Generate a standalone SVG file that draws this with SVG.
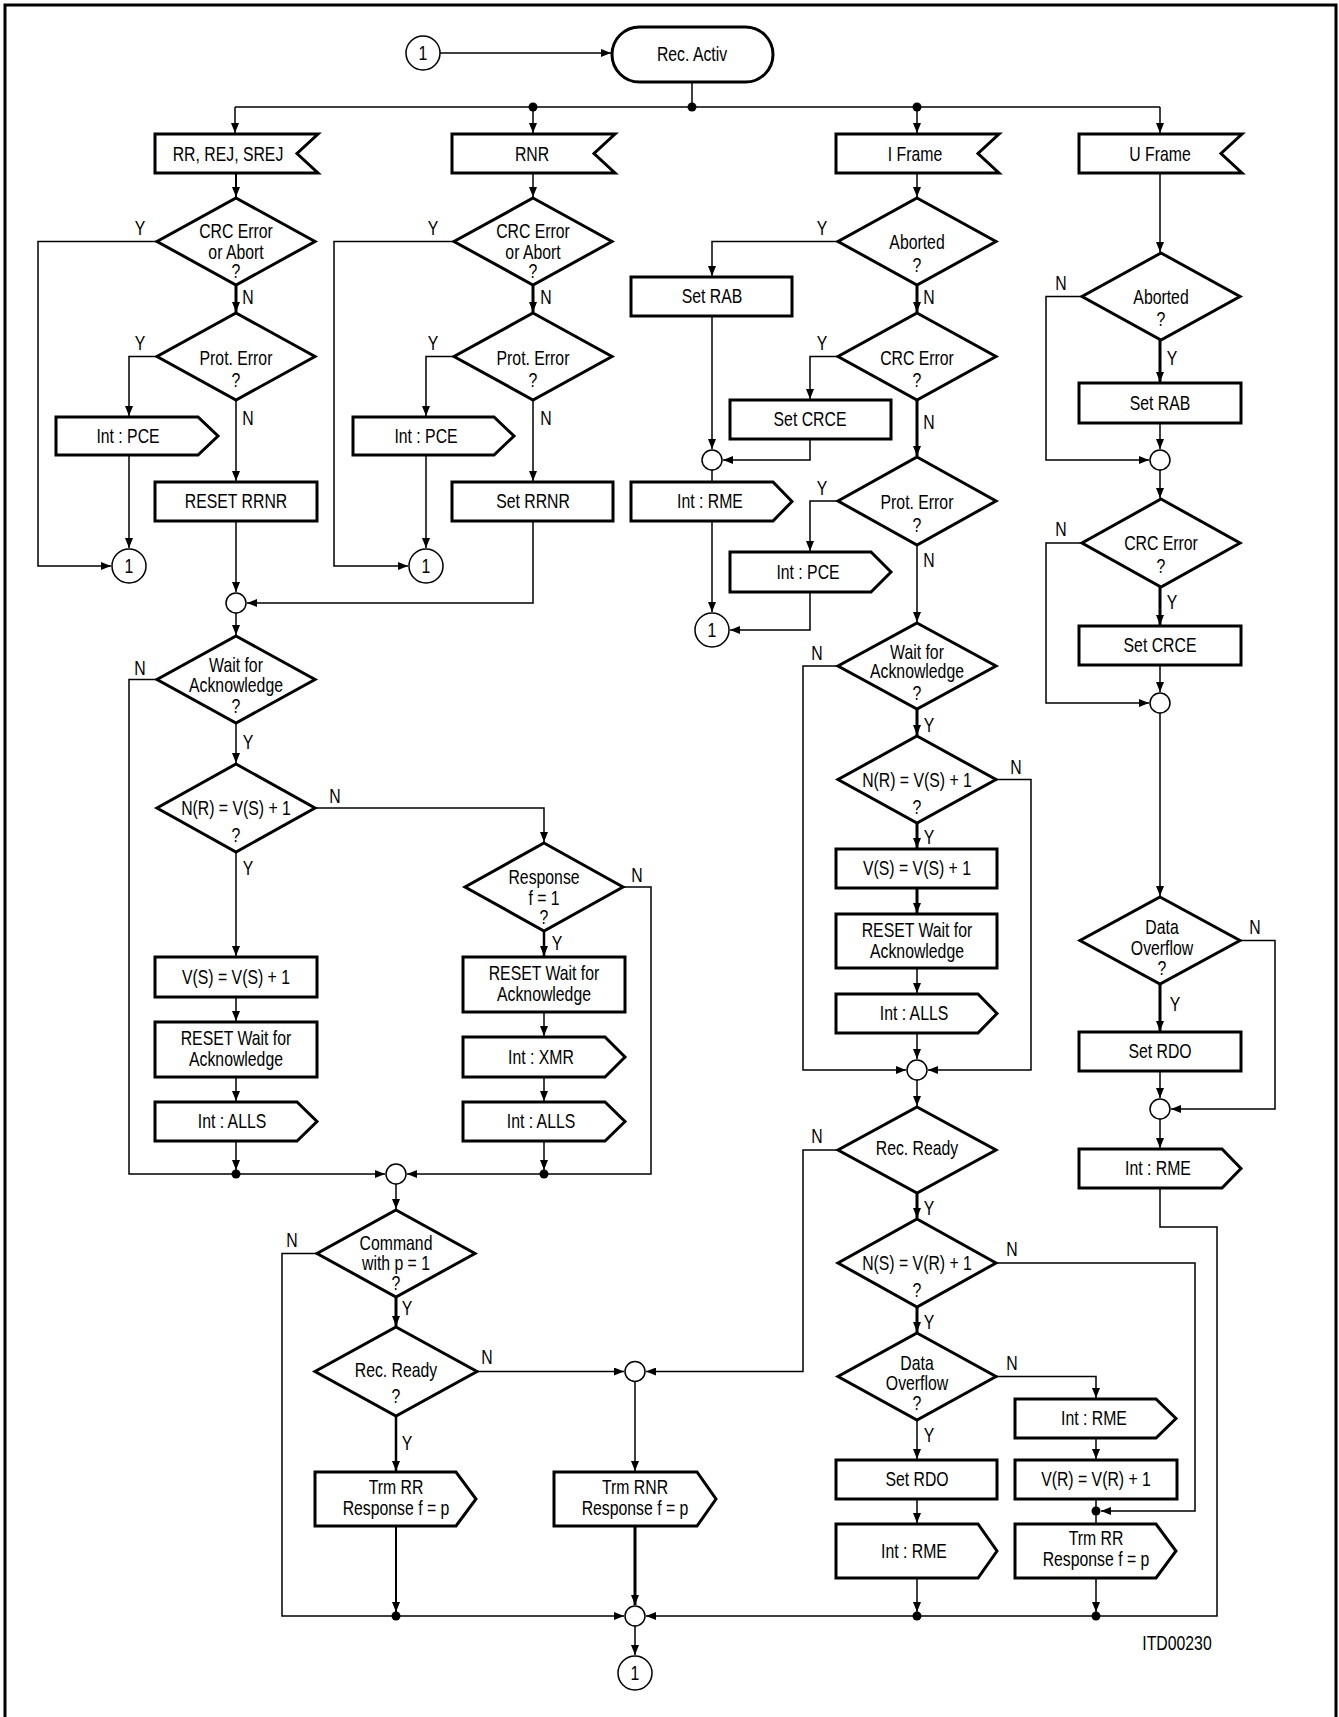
<svg xmlns="http://www.w3.org/2000/svg" width="1339" height="1717" viewBox="0 0 1339 1717">
<defs>
<marker id="a" markerWidth="10" markerHeight="8" refX="10" refY="4" orient="auto" markerUnits="userSpaceOnUse"><path d="M0,0 L10,4 L0,8 Z" fill="#000"/></marker>
<style>
.b{fill:#fff;stroke:#000;stroke-width:3;stroke-linejoin:miter}
.c{fill:#fff;stroke:#000;stroke-width:1.5}
.l{fill:none;stroke:#000;stroke-width:1.5}
.k{stroke-width:3}
.ar{marker-end:url(#a)}
.d{fill:#000}
text{font-family:"Liberation Sans",Arial,sans-serif;font-size:20px;text-anchor:middle;fill:#000}
</style>
</defs>
<rect x="0" y="0" width="1339" height="1717" fill="#fff"/>
<path d="M5,1720 V5 H1336 V1720" fill="none" stroke="#000" stroke-width="3"/>

<g id="connectors">
<path class="l ar" d="M440,53 H611"/>
<path class="l" d="M692,82 V107"/>
<path class="l" d="M235,107 H1160"/>
<path class="l ar" d="M235,107 V133"/>
<path class="l ar" d="M533,107 V133"/>
<path class="l ar" d="M917,107 V133"/>
<path class="l ar" d="M1160,107 V133"/>
<path class="l ar" d="M236,173 V197" style="stroke-width:2"/>
<path class="l k ar" d="M236,285 V312"/>
<path class="l ar" d="M157,241.5 H38 V566 H111"/>
<path class="l ar" d="M157,356.5 H129 V416"/>
<path class="l ar" d="M129,455 V548"/>
<path class="l ar" d="M236,400 V481"/>
<path class="l ar" d="M236,521 V592"/>
<path class="l ar" d="M533,521 V603 H247"/>
<path class="l ar" d="M236,613 V635"/>
<path class="l ar" d="M157,679.5 H129 V1174 H385"/>
<path class="l ar" d="M236,723 V763"/>
<path class="l ar" d="M316,808 H544 V842"/>
<path class="l ar" d="M236,852 V956"/>
<path class="l ar" d="M236,997 V1021"/>
<path class="l ar" d="M236,1077 V1101"/>
<path class="l ar" d="M236,1141 V1170"/>
<path class="l ar" d="M623,887 H651 V1174 H407"/>
<path class="l ar" d="M544,931 V956" style="stroke-width:2.5"/>
<path class="l ar" d="M544,1012 V1036"/>
<path class="l ar" d="M544,1077 V1101"/>
<path class="l ar" d="M544,1141 V1170"/>
<path class="l ar" d="M396,1184 V1209"/>
<path class="l ar" d="M317,1253.5 H282 V1616 H624"/>
<path class="l k ar" d="M396,1297 V1326"/>
<path class="l ar" d="M477,1371.5 H624"/>
<path class="l ar" d="M396,1416 V1471" style="stroke-width:2.5"/>
<path class="l ar" d="M396,1526 V1612" style="stroke-width:2"/>
<path class="l ar" d="M635,1381 V1471"/>
<path class="l k ar" d="M635,1526 V1605"/>
<path class="l ar" d="M635,1626 V1655"/>
<path class="l ar" d="M533,173 V197"/>
<path class="l k ar" d="M533,285 V312"/>
<path class="l ar" d="M453,241.5 H334 V566 H408"/>
<path class="l ar" d="M453,356.5 H426 V416"/>
<path class="l ar" d="M426,455 V548"/>
<path class="l ar" d="M533,400 V481"/>
<path class="l ar" d="M917,173 V197"/>
<path class="l ar" d="M838,241.5 H712 V276"/>
<path class="l ar" d="M712,316 V449"/>
<path class="l k ar" d="M917,285 V312"/>
<path class="l ar" d="M838,356.5 H810 V399"/>
<path class="l ar" d="M810,439 V460 H723"/>
<path class="l k ar" d="M917,400 V456"/>
<path class="l" d="M712,470 V482"/>
<path class="l ar" d="M712,521 V612"/>
<path class="l ar" d="M838,501 H810 V551"/>
<path class="l ar" d="M810,592 V630 H730"/>
<path class="l ar" d="M917,545 V622"/>
<path class="l ar" d="M838,666 H803 V1070 H906"/>
<path class="l k ar" d="M917,709 V735"/>
<path class="l ar" d="M996,779.5 H1031 V1070 H928"/>
<path class="l k ar" d="M917,823 V848"/>
<path class="l k ar" d="M917,888 V913"/>
<path class="l ar" d="M917,968 V993"/>
<path class="l ar" d="M917,1033 V1059"/>
<path class="l ar" d="M917,1080 V1106"/>
<path class="l ar" d="M838,1150 H803 V1371.5 H646"/>
<path class="l k ar" d="M917,1193 V1218"/>
<path class="l ar" d="M996,1263 H1195 V1511 H1101"/>
<path class="l k ar" d="M917,1307 V1332"/>
<path class="l ar" d="M996,1376.5 H1096 V1398"/>
<path class="l ar" d="M1096,1438 V1459"/>
<path class="l" d="M1096,1499 V1524"/>
<path class="l ar" d="M1096,1578 V1612"/>
<path class="l ar" d="M917,1420 V1459"/>
<path class="l ar" d="M917,1499 V1523"/>
<path class="l ar" d="M917,1578 V1612"/>
<path class="l ar" d="M1160,1188 V1227 H1217 V1616 H646"/>
<path class="l ar" d="M1160,173 V252"/>
<path class="l ar" d="M1082,296.5 H1046 V460 H1149"/>
<path class="l k ar" d="M1160,340 V382"/>
<path class="l ar" d="M1160,423 V449"/>
<path class="l ar" d="M1160,470 V498"/>
<path class="l ar" d="M1082,543 H1046 V703 H1149"/>
<path class="l k ar" d="M1160,587 V625"/>
<path class="l ar" d="M1160,665 V692"/>
<path class="l ar" d="M1160,713 V896"/>
<path class="l ar" d="M1241,940.5 H1275 V1109 H1171"/>
<path class="l k ar" d="M1160,984 V1031"/>
<path class="l ar" d="M1160,1071 V1098"/>
<path class="l ar" d="M1160,1119 V1148"/>
<circle class="d" cx="692" cy="107" r="4.5"/>
<circle class="d" cx="533" cy="107" r="4.5"/>
<circle class="d" cx="917" cy="107" r="4.5"/>
<circle class="d" cx="236" cy="1174" r="4.5"/>
<circle class="d" cx="544" cy="1174" r="4.5"/>
<circle class="d" cx="396" cy="1616" r="4.5"/>
<circle class="d" cx="917" cy="1616" r="4.5"/>
<circle class="d" cx="1096" cy="1616" r="4.5"/>
<circle class="d" cx="1096" cy="1511" r="4.5"/>
<g id="labels">
<text transform="translate(140,235) scale(.79,1)">Y</text><text transform="translate(248,304) scale(.79,1)">N</text>
<text transform="translate(140,350) scale(.79,1)">Y</text><text transform="translate(248,425) scale(.79,1)">N</text>
<text transform="translate(140,675) scale(.79,1)">N</text><text transform="translate(248,749) scale(.79,1)">Y</text>
<text transform="translate(335,803) scale(.79,1)">N</text><text transform="translate(248,875) scale(.79,1)">Y</text>
<text transform="translate(637,882) scale(.79,1)">N</text><text transform="translate(557,950) scale(.79,1)">Y</text>
<text transform="translate(292,1247) scale(.79,1)">N</text><text transform="translate(407,1315) scale(.79,1)">Y</text>
<text transform="translate(487,1364) scale(.79,1)">N</text><text transform="translate(407,1450) scale(.79,1)">Y</text>
<text transform="translate(433,235) scale(.79,1)">Y</text><text transform="translate(546,304) scale(.79,1)">N</text>
<text transform="translate(433,350) scale(.79,1)">Y</text><text transform="translate(546,425) scale(.79,1)">N</text>
<text transform="translate(822,235) scale(.79,1)">Y</text><text transform="translate(929,304) scale(.79,1)">N</text>
<text transform="translate(822,350) scale(.79,1)">Y</text><text transform="translate(929,429) scale(.79,1)">N</text>
<text transform="translate(822,495) scale(.79,1)">Y</text><text transform="translate(929,567) scale(.79,1)">N</text>
<text transform="translate(817,660) scale(.79,1)">N</text><text transform="translate(929,732) scale(.79,1)">Y</text>
<text transform="translate(1016,774) scale(.79,1)">N</text><text transform="translate(929,844) scale(.79,1)">Y</text>
<text transform="translate(817,1143) scale(.79,1)">N</text><text transform="translate(929,1215) scale(.79,1)">Y</text>
<text transform="translate(1012,1256) scale(.79,1)">N</text><text transform="translate(929,1329) scale(.79,1)">Y</text>
<text transform="translate(1012,1370) scale(.79,1)">N</text><text transform="translate(929,1442) scale(.79,1)">Y</text>
<text transform="translate(1061,290) scale(.79,1)">N</text><text transform="translate(1172,365) scale(.79,1)">Y</text>
<text transform="translate(1061,536) scale(.79,1)">N</text><text transform="translate(1172,609) scale(.79,1)">Y</text>
<text transform="translate(1255,934) scale(.79,1)">N</text><text transform="translate(1175,1011) scale(.79,1)">Y</text>
</g>
</g>

<g id="c-top"><circle class="c" cx="423" cy="53" r="17"/><text transform="translate(423,60) scale(.79,1)">1</text></g>
<g id="rec-activ"><rect class="b" x="612" y="27" width="161" height="55" rx="27.5"/><text transform="translate(692,61) scale(.79,1)">Rec. Activ</text></g>

<g id="f-rr"><path class="b" d="M155,134 H318 L297,153.5 L318,173 H155 Z"/><text transform="translate(228,161) scale(.79,1)">RR, REJ, SREJ</text></g>
<g id="f-rnr"><path class="b" d="M452,134 H615 L594,153.5 L615,173 H452 Z"/><text transform="translate(532,161) scale(.79,1)">RNR</text></g>
<g id="f-i"><path class="b" d="M836,134 H999 L978,153.5 L999,173 H836 Z"/><text transform="translate(915,161) scale(.79,1)">I Frame</text></g>
<g id="f-u"><path class="b" d="M1079,134 H1242 L1221,153.5 L1242,173 H1079 Z"/><text transform="translate(1160,161) scale(.79,1)">U Frame</text></g>

<g id="rr-crc"><path class="b" d="M236,198 L315,241.5 L236,285 L157,241.5 Z"/><text transform="translate(236,238) scale(.79,1)">CRC Error</text><text transform="translate(236,259) scale(.79,1)">or Abort</text><text transform="translate(236,278) scale(.79,1)">?</text></g>
<g id="rr-prot"><path class="b" d="M236,313 L315,356.5 L236,400 L157,356.5 Z"/><text transform="translate(236,365) scale(.79,1)">Prot. Error</text><text transform="translate(236,387) scale(.79,1)">?</text></g>
<g id="rr-pce"><path class="b" d="M56,417 H198 L218,436 L198,455 H56 Z"/><text transform="translate(128,443) scale(.79,1)">Int : PCE</text></g>
<g id="rr-c1"><circle class="c" cx="129" cy="566" r="17"/><text transform="translate(129,573) scale(.79,1)">1</text></g>
<g id="rr-reset"><rect class="b" x="155" y="482" width="162" height="39"/><text transform="translate(236,508) scale(.79,1)">RESET RRNR</text></g>
<g id="j1"><circle class="c" cx="236" cy="603" r="10"/></g>
<g id="rr-wait"><path class="b" d="M236,636 L315,679.5 L236,723 L157,679.5 Z"/><text transform="translate(236,672) scale(.79,1)">Wait for</text><text transform="translate(236,692) scale(.79,1)">Acknowledge</text><text transform="translate(236,713) scale(.79,1)">?</text></g>
<g id="rr-nr"><path class="b" d="M236,764 L315,808 L236,852 L157,808 Z"/><text transform="translate(236,815) scale(.79,1)">N(R) = V(S) + 1</text><text transform="translate(236,842) scale(.79,1)">?</text></g>
<g id="rr-vs"><rect class="b" x="155" y="957" width="162" height="40"/><text transform="translate(236,984) scale(.79,1)">V(S) = V(S) + 1</text></g>
<g id="rr-resetw"><rect class="b" x="155" y="1022" width="162" height="55"/><text transform="translate(236,1045) scale(.79,1)">RESET Wait for</text><text transform="translate(236,1066) scale(.79,1)">Acknowledge</text></g>
<g id="rr-alls"><path class="b" d="M155,1102 H297 L317,1121.5 L297,1141 H155 Z"/><text transform="translate(232,1128) scale(.79,1)">Int : ALLS</text></g>
<g id="rr-resp"><path class="b" d="M544,843 L623,887 L544,931 L465,887 Z"/><text transform="translate(544,884) scale(.79,1)">Response</text><text transform="translate(544,905) scale(.79,1)">f = 1</text><text transform="translate(544,924) scale(.79,1)">?</text></g>
<g id="rr-resetw2"><rect class="b" x="463" y="957" width="162" height="55"/><text transform="translate(544,980) scale(.79,1)">RESET Wait for</text><text transform="translate(544,1001) scale(.79,1)">Acknowledge</text></g>
<g id="rr-xmr"><path class="b" d="M463,1037 H605 L625,1057 L605,1077 H463 Z"/><text transform="translate(541,1064) scale(.79,1)">Int : XMR</text></g>
<g id="rr-alls2"><path class="b" d="M463,1102 H605 L625,1121.5 L605,1141 H463 Z"/><text transform="translate(541,1128) scale(.79,1)">Int : ALLS</text></g>
<g id="j2"><circle class="c" cx="396" cy="1174" r="10"/></g>
<g id="cmd"><path class="b" d="M396,1210 L475,1253.5 L396,1297 L317,1253.5 Z"/><text transform="translate(396,1250) scale(.79,1)">Command</text><text transform="translate(396,1270) scale(.79,1)">with p = 1</text><text transform="translate(396,1290) scale(.79,1)">?</text></g>
<g id="recready1"><path class="b" d="M396,1327 L477,1371.5 L396,1416 L315,1371.5 Z"/><text transform="translate(396,1377) scale(.79,1)">Rec. Ready</text><text transform="translate(396,1403) scale(.79,1)">?</text></g>
<g id="trm-rr1"><path class="b" d="M315,1472 H456 L476,1499 L456,1526 H315 Z"/><text transform="translate(396,1494) scale(.79,1)">Trm RR</text><text transform="translate(396,1515) scale(.79,1)">Response f = p</text></g>
<g id="j3"><circle class="c" cx="635" cy="1371.5" r="10"/></g>
<g id="trm-rnr"><path class="b" d="M554,1472 H697 L716,1499 L697,1526 H554 Z"/><text transform="translate(635,1494) scale(.79,1)">Trm RNR</text><text transform="translate(635,1515) scale(.79,1)">Response f = p</text></g>
<g id="j4"><circle class="c" cx="635" cy="1616" r="10"/></g>
<g id="c-end"><circle class="c" cx="635" cy="1673" r="17"/><text transform="translate(635,1680) scale(.79,1)">1</text></g>

<g id="rnr-crc"><path class="b" d="M533,198 L612,241.5 L533,285 L454,241.5 Z"/><text transform="translate(533,238) scale(.79,1)">CRC Error</text><text transform="translate(533,259) scale(.79,1)">or Abort</text><text transform="translate(533,278) scale(.79,1)">?</text></g>
<g id="rnr-prot"><path class="b" d="M533,313 L612,356.5 L533,400 L454,356.5 Z"/><text transform="translate(533,365) scale(.79,1)">Prot. Error</text><text transform="translate(533,387) scale(.79,1)">?</text></g>
<g id="rnr-pce"><path class="b" d="M353,417 H494 L514,436 L494,455 H353 Z"/><text transform="translate(426,443) scale(.79,1)">Int : PCE</text></g>
<g id="rnr-c1"><circle class="c" cx="426" cy="566" r="17"/><text transform="translate(426,573) scale(.79,1)">1</text></g>
<g id="rnr-set"><rect class="b" x="452" y="482" width="161" height="39"/><text transform="translate(533,508) scale(.79,1)">Set RRNR</text></g>

<g id="i-abort"><path class="b" d="M917,198 L996,241.5 L917,285 L838,241.5 Z"/><text transform="translate(917,249) scale(.79,1)">Aborted</text><text transform="translate(917,272) scale(.79,1)">?</text></g>
<g id="i-rab"><rect class="b" x="631" y="277" width="161" height="39"/><text transform="translate(712,303) scale(.79,1)">Set RAB</text></g>
<g id="i-crc"><path class="b" d="M917,313 L996,356.5 L917,400 L838,356.5 Z"/><text transform="translate(917,365) scale(.79,1)">CRC Error</text><text transform="translate(917,387) scale(.79,1)">?</text></g>
<g id="i-crce"><rect class="b" x="730" y="400" width="161" height="39"/><text transform="translate(810,426) scale(.79,1)">Set CRCE</text></g>
<g id="j5"><circle class="c" cx="712" cy="460" r="10"/></g>
<g id="i-rme"><path class="b" d="M631,482 H773 L792,501.5 L773,521 H631 Z"/><text transform="translate(710,508) scale(.79,1)">Int : RME</text></g>
<g id="i-prot"><path class="b" d="M917,457 L996,501 L917,545 L838,501 Z"/><text transform="translate(917,509) scale(.79,1)">Prot. Error</text><text transform="translate(917,532) scale(.79,1)">?</text></g>
<g id="i-pce"><path class="b" d="M730,552 H871 L891,572 L871,592 H730 Z"/><text transform="translate(808,579) scale(.79,1)">Int : PCE</text></g>
<g id="i-c1"><circle class="c" cx="712" cy="630" r="17"/><text transform="translate(712,637) scale(.79,1)">1</text></g>
<g id="i-wait"><path class="b" d="M917,623 L996,666 L917,709 L838,666 Z"/><text transform="translate(917,659) scale(.79,1)">Wait for</text><text transform="translate(917,678) scale(.79,1)">Acknowledge</text><text transform="translate(917,700) scale(.79,1)">?</text></g>
<g id="i-nr"><path class="b" d="M917,736 L996,779.5 L917,823 L838,779.5 Z"/><text transform="translate(917,787) scale(.79,1)">N(R) = V(S) + 1</text><text transform="translate(917,814) scale(.79,1)">?</text></g>
<g id="i-vs"><rect class="b" x="836" y="849" width="161" height="39"/><text transform="translate(917,875) scale(.79,1)">V(S) = V(S) + 1</text></g>
<g id="i-resetw"><rect class="b" x="836" y="914" width="161" height="54"/><text transform="translate(917,937) scale(.79,1)">RESET Wait for</text><text transform="translate(917,958) scale(.79,1)">Acknowledge</text></g>
<g id="i-alls"><path class="b" d="M836,994 H978 L997,1013.5 L978,1033 H836 Z"/><text transform="translate(914,1020) scale(.79,1)">Int : ALLS</text></g>
<g id="j6"><circle class="c" cx="917" cy="1070" r="10"/></g>
<g id="i-ready"><path class="b" d="M917,1107 L996,1150 L917,1193 L838,1150 Z"/><text transform="translate(917,1155) scale(.79,1)">Rec. Ready</text></g>
<g id="i-ns"><path class="b" d="M917,1219 L996,1263 L917,1307 L838,1263 Z"/><text transform="translate(917,1270) scale(.79,1)">N(S) = V(R) + 1</text><text transform="translate(917,1297) scale(.79,1)">?</text></g>
<g id="i-do"><path class="b" d="M917,1333 L996,1376.5 L917,1420 L838,1376.5 Z"/><text transform="translate(917,1370) scale(.79,1)">Data</text><text transform="translate(917,1390) scale(.79,1)">Overflow</text><text transform="translate(917,1410) scale(.79,1)">?</text></g>
<g id="i-rdo"><rect class="b" x="836" y="1460" width="161" height="39"/><text transform="translate(917,1486) scale(.79,1)">Set RDO</text></g>
<g id="i-rme2"><path class="b" d="M836,1524 H978 L997,1551 L978,1578 H836 Z"/><text transform="translate(914,1558) scale(.79,1)">Int : RME</text></g>
<g id="i-rme3"><path class="b" d="M1015,1399 H1156 L1176,1418.5 L1156,1438 H1015 Z"/><text transform="translate(1094,1425) scale(.79,1)">Int : RME</text></g>
<g id="i-vr"><rect class="b" x="1015" y="1460" width="162" height="39"/><text transform="translate(1096,1486) scale(.79,1)">V(R) = V(R) + 1</text></g>
<g id="i-trmrr"><path class="b" d="M1015,1524 H1156 L1176,1551 L1156,1578 H1015 Z"/><text transform="translate(1096,1545) scale(.79,1)">Trm RR</text><text transform="translate(1096,1566) scale(.79,1)">Response f = p</text></g>

<g id="u-abort"><path class="b" d="M1161,253 L1240,296.5 L1161,340 L1082,296.5 Z"/><text transform="translate(1161,304) scale(.79,1)">Aborted</text><text transform="translate(1161,326) scale(.79,1)">?</text></g>
<g id="u-rab"><rect class="b" x="1079" y="383" width="162" height="40"/><text transform="translate(1160,410) scale(.79,1)">Set RAB</text></g>
<g id="j7"><circle class="c" cx="1160" cy="460" r="10"/></g>
<g id="u-crc"><path class="b" d="M1161,499 L1240,543 L1161,587 L1082,543 Z"/><text transform="translate(1161,550) scale(.79,1)">CRC Error</text><text transform="translate(1161,573) scale(.79,1)">?</text></g>
<g id="u-crce"><rect class="b" x="1079" y="626" width="162" height="39"/><text transform="translate(1160,652) scale(.79,1)">Set CRCE</text></g>
<g id="j8"><circle class="c" cx="1160" cy="703" r="10"/></g>
<g id="u-do"><path class="b" d="M1160,897 L1240,940.5 L1160,984 L1080,940.5 Z"/><text transform="translate(1162,934) scale(.79,1)">Data</text><text transform="translate(1162,955) scale(.79,1)">Overflow</text><text transform="translate(1162,975) scale(.79,1)">?</text></g>
<g id="u-rdo"><rect class="b" x="1079" y="1032" width="162" height="39"/><text transform="translate(1160,1058) scale(.79,1)">Set RDO</text></g>
<g id="j9"><circle class="c" cx="1160" cy="1109" r="10"/></g>
<g id="u-rme"><path class="b" d="M1079,1149 H1222 L1241,1168.5 L1222,1188 H1079 Z"/><text transform="translate(1158,1175) scale(.79,1)">Int : RME</text></g>

<text transform="translate(1177,1650) scale(.79,1)">ITD00230</text>
</svg>
